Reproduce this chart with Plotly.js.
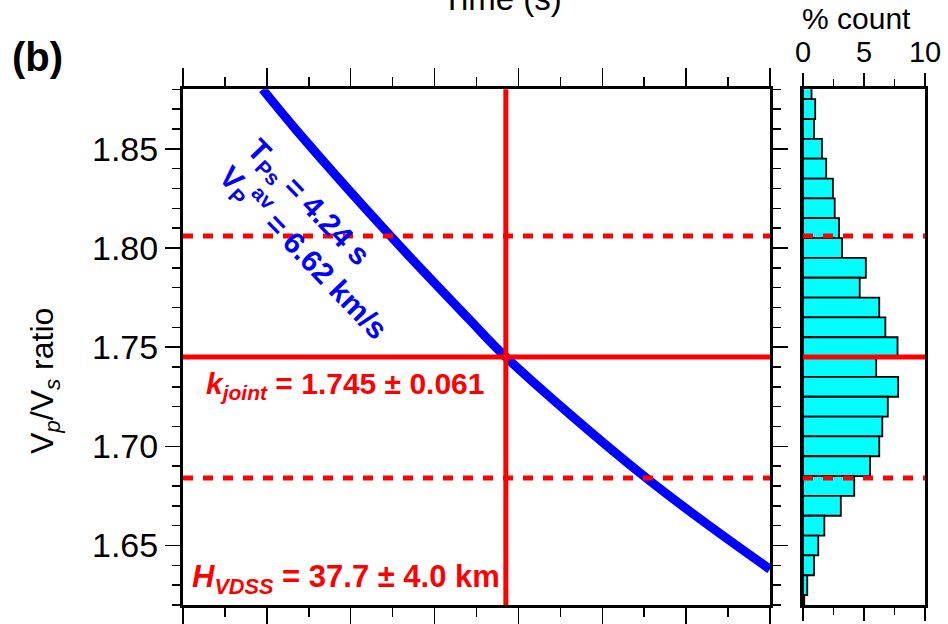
<!DOCTYPE html>
<html>
<head>
<meta charset="utf-8">
<script src="https://cdn.plot.ly/plotly-3.0.1.min.js"></script>
<style>html,body{margin:0;padding:0;background:#fff;}#chart{width:948px;height:624px;}</style>
</head>
<body>
<div id="chart"></div>
<script>
// ---- data ----
const curveH = [31.9, 32.7, 34.95, 36.85, 37.7, 41.05, 44.0];          // depth (km)
const curveK = [1.880, 1.8595, 1.806, 1.7635, 1.745, 1.684, 1.638];    // Vp/Vs along T_Ps iso-line
const binK = [1.88, 1.87, 1.86, 1.85, 1.84, 1.83, 1.82, 1.81, 1.80, 1.79, 1.78, 1.77, 1.76, 1.75,
              1.74, 1.73, 1.72, 1.71, 1.70, 1.69, 1.68, 1.67, 1.66, 1.65, 1.64, 1.63, 1.62];
const binPct = [0.7, 1.0, 0.9, 1.55, 1.9, 2.45, 2.6, 2.95, 3.2, 5.15, 4.65, 6.25, 6.75, 7.75,
                6.0, 7.8, 6.95, 6.5, 6.25, 5.5, 4.2, 3.1, 1.75, 1.25, 0.9, 0.35, 0.1];
const kJoint = 1.745, kErr = 0.061;
const hVdss = 37.7, hErr = 4.0;
const tPs = 4.24, vpAv = 6.62;
const yTicks = [1.65, 1.70, 1.75, 1.80, 1.85];
const histTicks = [0, 5, 10];

// ---- helpers for pixel placement ----
const W = 948, Ht = 624;
const px = x => x / W;
const py = y => 1 - y / Ht;
const FONT = 'Liberation Sans, Arial, sans-serif';

const traces = [
  {x: curveH, y: curveK, type: 'scatter', mode: 'lines', xaxis: 'x', yaxis: 'y',
   line: {color: '#0000ff', width: 9, shape: 'spline', smoothing: 1}, hoverinfo: 'skip'},
  {x: binPct, y: binK, type: 'bar', orientation: 'h', xaxis: 'x2', yaxis: 'y2',
   width: 0.01, marker: {color: '#00ffff', line: {color: '#000', width: 1.8}}, hoverinfo: 'skip'}
];

const red = '#ff0000';
function hline(yv, xr, dash) {
  return {type: 'line', xref: xr + ' domain', yref: xr === 'x' ? 'y' : 'y2', x0: 0, x1: 1, y0: yv, y1: yv,
          layer: 'above', line: {color: red, width: 5, dash: dash}};
}
const shapes = [
  {type: 'line', xref: 'x', yref: 'y domain', x0: hVdss, x1: hVdss, y0: 0, y1: 1, layer: 'above',
   line: {color: red, width: 5}},
  hline(kJoint, 'x', 'solid'), hline(kJoint + kErr, 'x', '10px,10px'), hline(kJoint - kErr, 'x', '10px,10px'),
  hline(kJoint, 'x2', 'solid'), hline(kJoint + kErr, 'x2', '10px,10px'), hline(kJoint - kErr, 'x2', '10px,10px')
];

const axisCommon = {showgrid: false, zeroline: false, showline: true, linewidth: 3, linecolor: '#000',
                    ticks: 'outside', tickcolor: '#000', tickwidth: 1.5, fixedrange: true};

const layout = {
  width: W, height: Ht, margin: {l: 0, r: 0, t: 0, b: 0},
  paper_bgcolor: '#fff', plot_bgcolor: '#fff', showlegend: false, bargap: 0,
  font: {family: FONT, color: '#000'},
  xaxis: Object.assign({}, axisCommon, {
    domain: [px(183), px(770)], range: [30, 44], tick0: 30, dtick: 2, ticklen: 18,
    mirror: 'ticks', showticklabels: false, anchor: 'y',
    minor: {dtick: 1, ticklen: 9, ticks: 'outside', tickcolor: '#000', tickwidth: 1.5}
  }),
  yaxis: Object.assign({}, axisCommon, {
    domain: [py(605), py(89.3)], range: [1.62, 1.88], tickvals: yTicks, tickformat: '.2f',
    ticklen: 15, mirror: 'ticks', anchor: 'x', tickfont: {size: 34, family: FONT},
    minor: {dtick: 0.01, tick0: 1.62, ticklen: 8, ticks: 'outside', tickcolor: '#000', tickwidth: 1.5}
  }),
  xaxis2: Object.assign({}, axisCommon, {
    domain: [px(803), px(925)], range: [0, 10], tickvals: histTicks, side: 'top', ticklen: 13,
    mirror: 'ticks', anchor: 'y2', tickfont: {size: 29, family: FONT},
    minor: {dtick: 2.5, ticklen: 7, ticks: 'outside', tickcolor: '#000', tickwidth: 1.5}
  }),
  yaxis2: Object.assign({}, axisCommon, {
    domain: [py(605), py(89.3)], range: [1.62, 1.88], ticks: '', showticklabels: false,
    mirror: true, anchor: 'x2'
  }),
  shapes: shapes,
  annotations: [
    {text: '<b>(b)</b>', xref: 'paper', yref: 'paper', x: px(37), y: py(57), showarrow: false,
     xanchor: 'center', yanchor: 'middle', font: {size: 40, family: FONT, color: '#000'}},
    {text: 'V<sub><i>p</i></sub>/V<sub><i>s</i></sub> ratio', xref: 'paper', yref: 'paper',
     x: px(44), y: py(381), showarrow: false, textangle: -90, xanchor: 'center', yanchor: 'middle',
     font: {size: 32, family: FONT, color: '#000'}},
    {text: '% count', xref: 'paper', yref: 'paper', x: px(856), y: py(18), showarrow: false,
     xanchor: 'center', yanchor: 'middle', font: {size: 30, family: FONT, color: '#000'}},
    {text: 'Time (s)', xref: 'paper', yref: 'paper', x: px(502), y: py(19), showarrow: false,
     xanchor: 'center', yanchor: 'bottom', font: {size: 33, family: FONT, color: '#000'}},
    {text: '<b>T<sub>Ps</sub> = ' + tPs.toFixed(2) + ' s<br>V<sub>P</sub><sup>av</sup> = ' + vpAv.toFixed(2) + ' km/s</b>',
     xref: 'paper', yref: 'paper', x: px(316), y: py(240), showarrow: false, textangle: 46,
     align: 'left', xanchor: 'center', yanchor: 'middle', font: {size: 30, family: FONT, color: '#0000ff'}},
    {text: '<b><i>k</i><sub><i>joint</i></sub> = ' + kJoint.toFixed(3) + ' ± ' + kErr.toFixed(3) + '</b>',
     xref: 'paper', yref: 'paper', x: px(204), y: py(385), showarrow: false,
     xanchor: 'left', yanchor: 'middle', font: {size: 30, family: FONT, color: red}},
    {text: '<b><i>H</i><sub><i>VDSS</i></sub> = ' + hVdss.toFixed(1) + ' ± ' + hErr.toFixed(1) + ' km</b>',
     xref: 'paper', yref: 'paper', x: px(190), y: py(579), showarrow: false,
     xanchor: 'left', yanchor: 'middle', font: {size: 31, family: FONT, color: red}}
  ]
};

Plotly.newPlot('chart', traces, layout, {staticPlot: true, displayModeBar: false});
</script>
</body>
</html>
